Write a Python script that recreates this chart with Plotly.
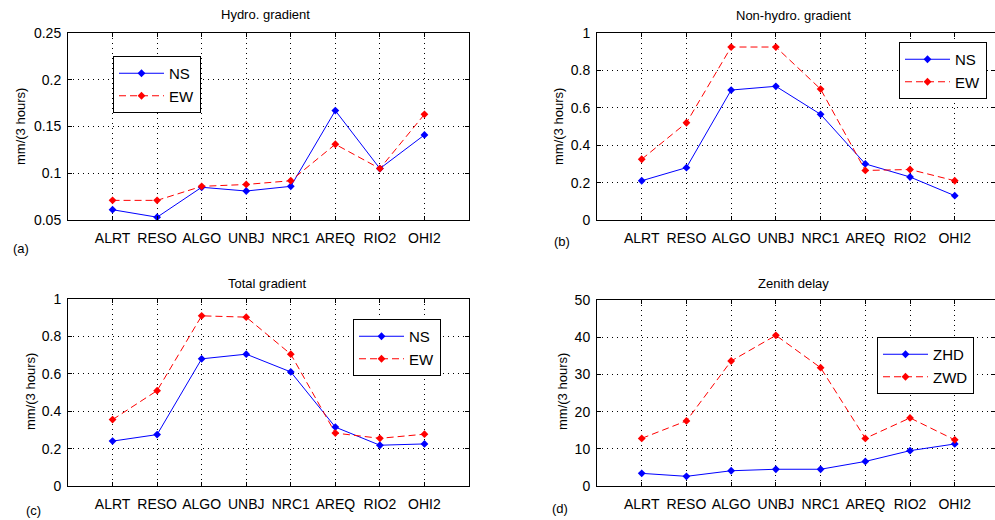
import plotly.graph_objects as go

stations = ["ALRT", "RESO", "ALGO", "UNBJ", "NRC1", "AREQ", "RIO2", "OHI2"]
xpos = [1, 2, 3, 4, 5, 6, 7, 8]

hydro_ns = [0.061, 0.053, 0.085, 0.081, 0.086, 0.167, 0.105, 0.141]
hydro_ew = [0.071, 0.071, 0.086, 0.088, 0.092, 0.131, 0.105, 0.163]

nonhydro_ns = [0.21, 0.28, 0.695, 0.715, 0.565, 0.30, 0.23, 0.13]
nonhydro_ew = [0.325, 0.52, 0.925, 0.925, 0.70, 0.265, 0.27, 0.21]

total_ns = [0.24, 0.275, 0.68, 0.705, 0.61, 0.315, 0.218, 0.225]
total_ew = [0.355, 0.51, 0.91, 0.903, 0.705, 0.283, 0.255, 0.277]

zhd = [3.4, 2.6, 4.1, 4.5, 4.5, 6.6, 9.5, 11.3]
zwd = [12.8, 17.5, 33.6, 40.5, 31.8, 12.8, 18.3, 12.4]

yt_a = [0.05, 0.1, 0.15, 0.2, 0.25]
yt_a_txt = ["0.05", "0.1", "0.15", "0.2", "0.25"]
yt_b = [0, 0.2, 0.4, 0.6, 0.8, 1]
yt_b_txt = ["0", "0.2", "0.4", "0.6", "0.8", "1"]
yt_d = [0, 10, 20, 30, 40, 50]
yt_d_txt = ["0", "10", "20", "30", "40", "50"]

W, H = 995, 520
FONT = "Liberation Sans, Arial, Helvetica, sans-serif"
BLUE = "rgb(0,0,255)"
RED = "rgb(255,0,0)"

fig = go.Figure()

panels = [
    ("x", "y", "legend", hydro_ns, hydro_ew, "NS", "EW"),
    ("x2", "y2", "legend2", nonhydro_ns, nonhydro_ew, "NS", "EW"),
    ("x3", "y3", "legend3", total_ns, total_ew, "NS", "EW"),
    ("x4", "y4", "legend4", zhd, zwd, "ZHD", "ZWD"),
]
for xa, ya, lg, s1, s2, n1, n2 in panels:
    fig.add_trace(go.Scatter(x=xpos, y=s1, name=n1, mode="lines+markers",
                             line=dict(color=BLUE, width=1),
                             marker=dict(symbol="diamond", size=6, color=BLUE),
                             xaxis=xa, yaxis=ya, legend=lg))
    fig.add_trace(go.Scatter(x=xpos, y=s2, name=n2, mode="lines+markers",
                             line=dict(color=RED, width=1, dash="7px,4px"),
                             marker=dict(symbol="diamond", size=6, color=RED),
                             xaxis=xa, yaxis=ya, legend=lg))

def px_x(p):
    return p / W

def px_y(p):
    return 1 - p / H

common_axis = dict(showline=True, linecolor="black", linewidth=1, mirror="ticks",
                   ticks="inside", ticklen=4, tickcolor="black",
                   showgrid=True, gridcolor="black", gridwidth=1, griddash="1px,4px",
                   zeroline=False, automargin=False,
                   tickfont=dict(family=FONT, size=14, color="black"))

dom_left = [px_x(68), px_x(469)]
dom_right = [px_x(597), 1.0]
dom_top = [px_y(220), px_y(33)]
dom_bot1 = [px_y(486), px_y(299)]
dom_bot2 = [px_y(486), px_y(300)]

xcfg = dict(tickvals=xpos, ticktext=stations, ticklabelstandoff=5, **common_axis)
fig.update_layout(
    xaxis=dict(domain=dom_left, range=[0, 9], anchor="y", **xcfg),
    xaxis2=dict(domain=dom_right, range=[0, 8.9], anchor="y2", **xcfg),
    xaxis3=dict(domain=dom_left, range=[0, 9], anchor="y3", **xcfg),
    xaxis4=dict(domain=dom_right, range=[0, 8.9], anchor="y4", **xcfg),
    yaxis=dict(domain=dom_top, range=[0.05, 0.25], tickvals=yt_a, ticktext=yt_a_txt,
               anchor="x", ticklabelstandoff=3, **common_axis),
    yaxis2=dict(domain=dom_top, range=[0, 1], tickvals=yt_b, ticktext=yt_b_txt,
                anchor="x2", ticklabelstandoff=3, **common_axis),
    yaxis3=dict(domain=dom_bot1, range=[0, 1], tickvals=yt_b, ticktext=yt_b_txt,
                anchor="x3", ticklabelstandoff=3, **common_axis),
    yaxis4=dict(domain=dom_bot2, range=[0, 50], tickvals=yt_d, ticktext=yt_d_txt,
                anchor="x4", ticklabelstandoff=3, **common_axis),
)

def legend_cfg(left, top):
    return dict(x=px_x(left), y=px_y(top), xanchor="left", yanchor="top",
                bgcolor="white", bordercolor="black", borderwidth=1,
                font=dict(family=FONT, size=15, color="black"),
                tracegroupgap=0, itemwidth=45)

fig.update_layout(
    legend=legend_cfg(113, 56),
    legend2=legend_cfg(899, 42),
    legend3=legend_cfg(353, 319),
    legend4=legend_cfg(877, 337),
)

annots = []
titles = [("Hydro. gradient", 265, 14), ("Non-hydro. gradient", 793, 15),
          ("Total gradient", 267, 283), ("Zenith delay", 793, 283)]
for t, x, y in titles:
    annots.append(dict(text=t, x=px_x(x), y=px_y(y), xref="paper", yref="paper",
                       showarrow=False, xanchor="center", yanchor="middle",
                       font=dict(family=FONT, size=13, color="black")))
ylabels = [(20, 127), (558, 127), (30, 392), (562, 392)]
for x, y in ylabels:
    annots.append(dict(text="mm/(3 hours)", x=px_x(x), y=px_y(y), xref="paper", yref="paper",
                       showarrow=False, xanchor="center", yanchor="middle", textangle=-90,
                       font=dict(family=FONT, size=13, color="black")))
plabels = [("(a)", 21, 248), ("(b)", 562, 241), ("(c)", 33, 510), ("(d)", 560, 508)]
for t, x, y in plabels:
    annots.append(dict(text=t, x=px_x(x), y=px_y(y), xref="paper", yref="paper",
                       showarrow=False, xanchor="center", yanchor="middle",
                       font=dict(family=FONT, size=13, color="black")))

fig.update_layout(annotations=annots, width=W, height=H,
                  margin=dict(l=0, r=0, t=0, b=0, autoexpand=False),
                  paper_bgcolor="white", plot_bgcolor="white",
                  font=dict(family=FONT, size=13, color="black"))

fig.write_html("out.html", config={"displayModeBar": False},
               post_script="document.body.style.margin='0';document.body.style.overflow='hidden';")
